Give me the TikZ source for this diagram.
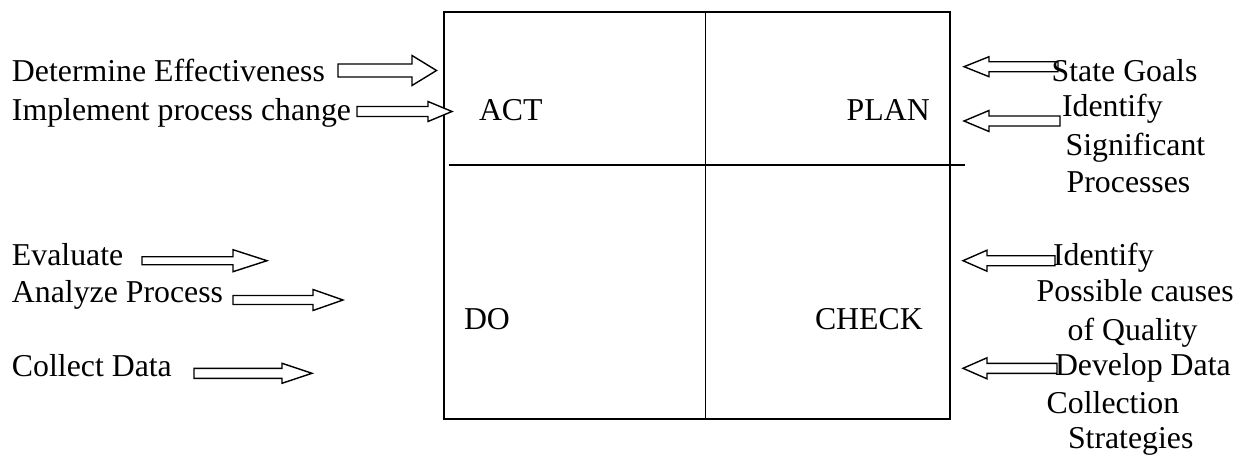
\documentclass[tikz,border=0pt]{standalone}
\usepackage{fontspec}
\setmainfont{Liberation Serif}

% Outlined block arrow: name, tail x, head-base x, tip x, centre y, shaft half-height, head half-height
\newcommand\pdcaArrow[7]{%
  \draw[blockarrow] (#2,{#5-#6}) -- (#3,{#5-#6}) -- (#3,{#5-#7}) -- (#4,#5)
    -- (#3,{#5+#7}) -- (#3,{#5+#6}) -- (#2,{#5+#6}) -- cycle;
  \coordinate (#1) at (#4,#5);}

\begin{document}
\begin{tikzpicture}[x=1pt,y=-1pt,
  frame/.style={draw=black,line width=1.7pt,inner sep=0pt,outer sep=0pt},
  divider/.style={draw=black,line width=1.9pt},
  blockarrow/.style={draw=black,fill=white,line width=1.4pt,line join=miter},
  lbl/.style={anchor=base west,inner sep=0pt,outer sep=0pt,
              font=\fontsize{31.8}{38}\selectfont}]
\useasboundingbox (0,0) rectangle (1242,455);

% the four-quadrant cycle box
\node[frame,anchor=north west,minimum width=506.3pt,minimum height=407pt]
  (pdca) at (443.7,12.3) {};
\coordinate (vtop) at (705.5,12.3);
\coordinate (vbot) at (705.5,419.3);
\coordinate (hl) at (448.7,165);
\coordinate (hr) at (965,165);
\draw[divider] (vtop) -- (vbot);
\draw[divider] (hl) -- (hr);

% quadrant titles
\node[lbl] (act)   at (479,120.7) {ACT};
\node[lbl] (plan)  at (846.7,120.7) {PLAN};
\node[lbl] (do)    at (464,329.3) {DO};
\node[lbl] (check) at (815,329.3) {CHECK};

% arrows into the box from the left
\pdcaArrow{aDet}{338}{412}{436.5}{70.5}{6.5}{15}
\pdcaArrow{aImp}{357}{428}{452}{111.5}{5}{10}
\pdcaArrow{aEva}{142}{233}{267}{260.7}{4}{11}
\pdcaArrow{aAna}{233}{313}{343}{300}{4.5}{10.5}
\pdcaArrow{aCol}{194}{282}{312}{373.3}{5}{10}

% arrows into the box from the right
\pdcaArrow{aGoal}{1058}{989}{964}{66.7}{5}{10}
\pdcaArrow{aSig}{1060}{989}{964}{121}{5}{10.5}
\pdcaArrow{aCau}{1055}{987}{963}{260.7}{5}{10.5}
\pdcaArrow{aDev}{1057}{987}{963}{368.3}{5}{10.5}

% left-hand activities
\node[lbl] (det) at (12,81)    {Determine Effectiveness};
\node[lbl] (imp) at (12,120.5) {Implement process change};
\node[lbl] (eva) at (12,265)   {Evaluate};
\node[lbl] (ana) at (12,302)   {Analyze Process};
\node[lbl] (col) at (12,376)   {Collect Data};

% right-hand activities
\node[lbl] (goal)  at (1051.7,81.7)  {State Goals};
\node[lbl] (sig1)  at (1062,116.7)   {Identify};
\node[lbl] (sig2)  at (1065.7,155)   {Significant};
\node[lbl] (sig3)  at (1066.7,192.5) {Processes};
\node[lbl] (cau1)  at (1053,265)     {Identify};
\node[lbl] (cau2)  at (1036.7,301.7) {Possible causes};
\node[lbl] (cau3)  at (1067.7,340)   {of Quality};
\node[lbl] (dev1)  at (1055,375)     {Develop Data};
\node[lbl] (dev2)  at (1046.7,413)   {Collection};
\node[lbl] (dev3)  at (1068,448.5)   {Strategies};
\end{tikzpicture}
\end{document}
